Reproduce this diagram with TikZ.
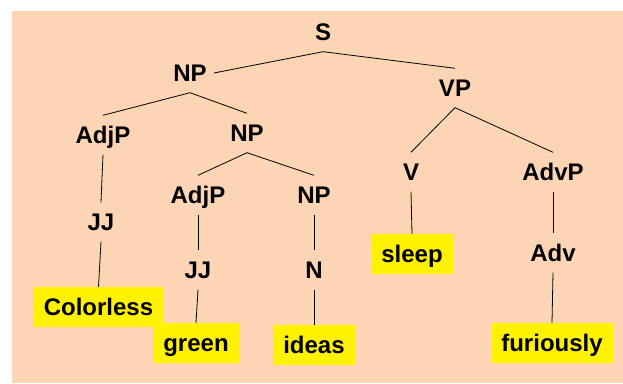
\documentclass[tikz,border=0pt]{standalone}
\usepackage{fontspec}
\setmainfont{Liberation Sans}
\definecolor{peach}{RGB}{252,213,180}
\begin{document}
\begin{tikzpicture}[x=1pt,y=-1pt,
 lbl/.style={font=\fontsize{24}{28}\selectfont\bfseries, text height=17pt, text depth=0pt, inner xsep=4pt, inner ysep=11pt},
 word/.style={lbl, fill=yellow, inner xsep=10pt, inner ysep=11.5pt},
 edge/.style={draw=black, line width=0.8pt}]
\useasboundingbox (0,0) rectangle (623,383);
\fill[peach] (12,11) rectangle (623,383);
% labels
\node[lbl] (S) at (323,32) {S};
\node[lbl] (NP1) at (190,73) {NP};
\node[lbl] (VP) at (455,88) {VP};
\node[lbl] (AdjP1) at (103,135) {AdjP};
\node[lbl] (NP2) at (247,133) {NP};
\node[lbl] (V) at (411,172) {V};
\node[lbl] (AdvP) at (553,172) {AdvP};
\node[lbl] (AdjP2) at (198,195) {AdjP};
\node[lbl] (NP3) at (314,195) {NP};
\node[lbl] (JJ1) at (101,222) {JJ};
\node[lbl] (JJ2) at (198,270) {JJ};
\node[lbl] (N) at (314,270) {N};
\node[lbl] (Adv) at (553,253) {Adv};
% words
\node[word] (sleep) at (412,254) {sleep};
\node[word] (colorless) at (98.5,307) {Colorless};
\node[word] (green) at (196,343) {green};
\node[word] (ideas) at (314,345) {ideas};
\node[word] (furiously) at (552,343) {furiously};
% edges
\draw[edge] (S.south) -- ([xshift=3pt]NP1.east);
\draw[edge] (S.south) -- (VP.north);
\draw[edge] (NP1.south) -- (AdjP1.north);
\draw[edge] (NP1.south) -- (NP2.north);
\draw[edge] (VP.south) -- (V.north);
\draw[edge] (VP.south) -- (AdvP.north);
\draw[edge] (NP2.south) -- (AdjP2.north);
\draw[edge] (NP2.south) -- (NP3.north);
\draw[edge] (AdjP1.south) -- (JJ1.north);
\draw[edge] (AdjP2.south) -- (JJ2.north);
\draw[edge] (NP3.south) -- (N.north);
\draw[edge] (V.south) -- (sleep.north);
\draw[edge] (AdvP.south) -- (Adv.north);
\draw[edge] (JJ1.south) -- (colorless.north);
\draw[edge] (JJ2.south) -- (green.north);
\draw[edge] (N.south) -- (ideas.north);
\draw[edge] (Adv.south) -- (furiously.north);
\end{tikzpicture}
\end{document}
